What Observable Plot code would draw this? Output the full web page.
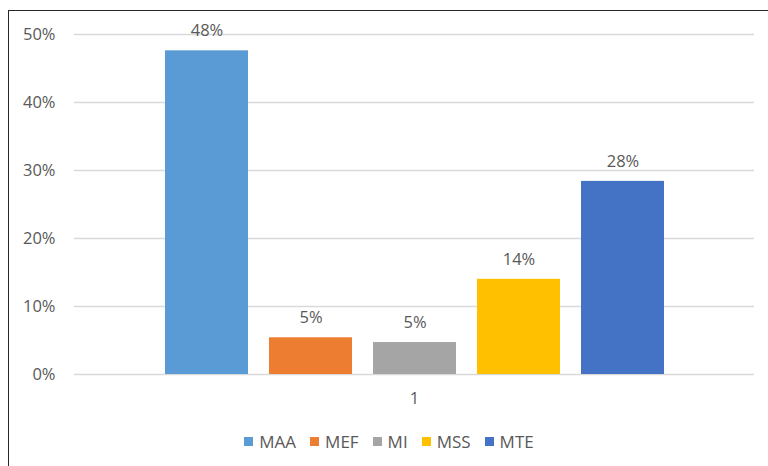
<!DOCTYPE html>
<html>
<head>
<meta charset="utf-8">
<script src="https://cdn.jsdelivr.net/npm/d3@7"></script>
<script src="https://cdn.jsdelivr.net/npm/@observablehq/plot@0.6"></script>
<style>
  html, body { margin: 0; padding: 0; background: #fff; overflow: hidden; }
  #wrap { position: relative; width: 768px; height: 466px; font-family: "Open Sans", sans-serif; }
  #border { position: absolute; left: 8px; top: 10px; width: 900px; height: 600px;
            border-left: 1.5px solid #262626; border-top: 1.5px solid #262626; box-sizing: border-box; }
  #chart { position: absolute; left: 0; top: 0; }
  #legend { position: absolute; left: 0; top: 431px; width: 768px; height: 20px;
            display: flex; justify-content: center; align-items: center; gap: 14px;
            color: #595959; font-size: 17px; padding-left: 10px; box-sizing: border-box; }
  .item { display: flex; align-items: center; gap: 6px; }
  .sw { width: 9px; height: 9px; display: inline-block; }
</style>
</head>
<body>
<div id="wrap">
  <div id="border"></div>
  <div id="chart"></div>
  <div id="legend"></div>
</div>
<script>
const series = ["MAA", "MEF", "MI", "MSS", "MTE"];
const values = [0.476, 0.054, 0.047, 0.140, 0.284];
const colors = ["#5B9BD5", "#ED7D31", "#A5A5A5", "#FFC000", "#4472C4"];
const category = ["1"];
const yTicks = [0, 0.1, 0.2, 0.3, 0.4, 0.5];

const data = series.map((s, i) => ({series: s, value: values[i]}));
const pct = d3.format(".0%");

const chart = Plot.plot({
  width: 768,
  height: 420,
  marginTop: 34,
  marginBottom: 46,
  marginLeft: 74,
  marginRight: 14,
  style: {fontFamily: "Open Sans, sans-serif", fontSize: "16.5px", color: "#595959", background: "transparent", overflow: "visible"},
  x: {domain: series, paddingInner: 0.206, paddingOuter: 0.857, axis: null},
  y: {domain: [0, 0.5], ticks: yTicks, tickFormat: pct, tickSize: 0, tickPadding: 19, label: null},
  color: {domain: series, range: colors},
  marks: [
    Plot.ruleY(yTicks, {stroke: "#d9d9d9", strokeWidth: 1.3}),
    Plot.barY(data, {x: "series", y: "value", fill: "series"}),
    Plot.text(data, {x: "series", y: "value", text: d => pct(d.value), dy: -20, fill: "#595959", fontSize: 16.5}),
    Plot.text(category, {frameAnchor: "bottom", text: d => d, dy: 29, fill: "#595959", fontSize: 16.5})
  ]
});
document.getElementById("chart").appendChild(chart);

const legend = document.getElementById("legend");
series.forEach((s, i) => {
  const it = document.createElement("span");
  it.className = "item";
  const sw = document.createElement("span");
  sw.className = "sw";
  sw.style.background = colors[i];
  const lb = document.createElement("span");
  lb.textContent = s;
  it.appendChild(sw);
  it.appendChild(lb);
  legend.appendChild(it);
});
</script>
</body>
</html>
